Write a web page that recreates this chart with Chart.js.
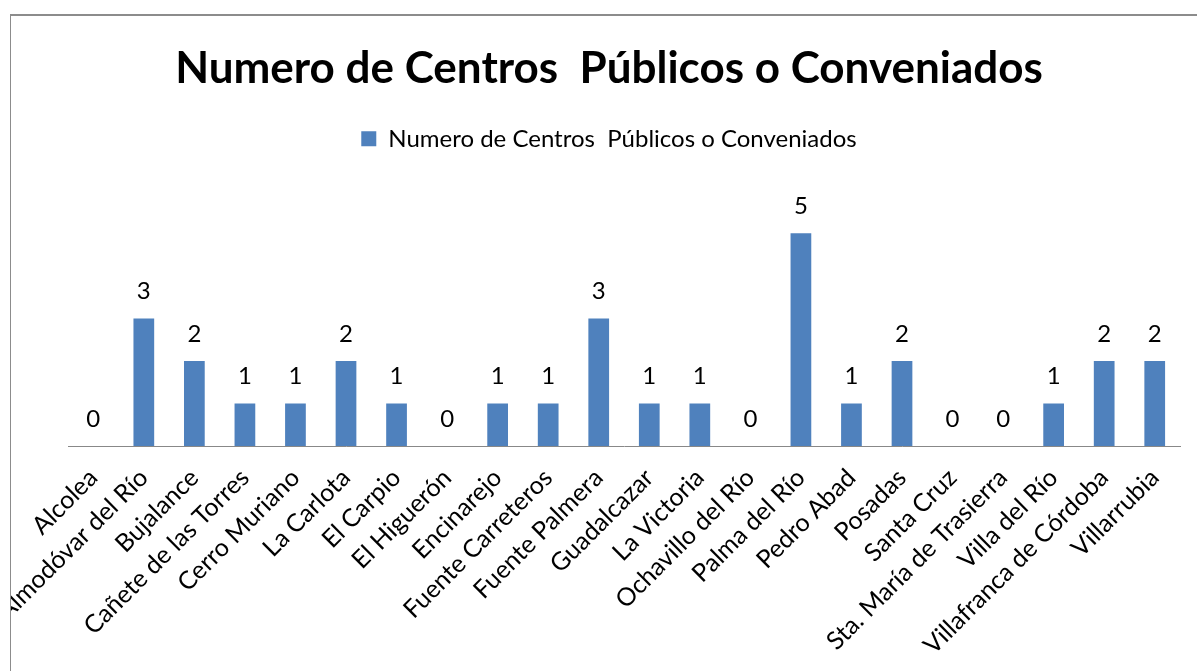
<!DOCTYPE html>
<html>
<head>
<meta charset="utf-8">
<script src="https://cdn.jsdelivr.net/npm/chart.js@4.4.1/dist/chart.umd.min.js"></script>
<style>
html,body{margin:0;padding:0;background:#fff;overflow:hidden}
#wrap{position:relative;width:1197px;height:671px;overflow:hidden}
#frame{position:absolute;left:10px;top:14px;width:1220px;height:700px;border-top:2px solid #8c8c8c;border-left:1px solid #8c8c8c;overflow:hidden}
#frame canvas{position:absolute;left:-11px;top:-16px}
</style>
</head>
<body>
<div id="wrap"><div id="frame"><canvas id="chart" width="1197" height="671"></canvas></div></div>
<script>
const municipios = ['Alcolea','Almodóvar del Río','Bujalance','Cañete de las Torres','Cerro Muriano','La Carlota','El Carpio','El Higuerón','Encinarejo','Fuente Carreteros','Fuente Palmera','Guadalcazar','La Victoria','Ochavillo del Río','Palma del Río','Pedro Abad','Posadas','Santa Cruz','Sta. María de Trasierra','Villa del Río','Villafranca de Córdoba','Villarrubia'];
const centros = [0,3,2,1,1,2,1,0,1,1,3,1,1,0,5,1,2,0,0,1,2,2];
const serieNombre = 'Numero de Centros  Públicos o Conveniados';
const tituloGrafico = 'Numero de Centros  Públicos o Conveniados';

Chart.defaults.color = '#000';
Chart.defaults.font.family = 'Lato, "Open Sans", sans-serif';

// numbers above each bar, placed from the bar elements
const valueLabels = {
  id:'valueLabels',
  afterDatasetsDraw(chart){
    const ctx = chart.ctx, meta = chart.getDatasetMeta(0);
    ctx.save();
    ctx.font = '24px Lato';
    ctx.fillStyle = '#000';
    ctx.textAlign = 'center';
    ctx.textBaseline = 'alphabetic';
    meta.data.forEach((bar,i)=>ctx.fillText(String(centros[i]), bar.x, bar.y - 19));
    ctx.restore();
  }
};

// extra room under the legend, like the Excel plot area
const legendGap = {
  id:'legendGap',
  afterInit(chart){
    const lg = chart.legend;
    const fit = lg.fit.bind(lg);
    lg.fit = ()=>{ fit(); lg.height += 30; };
  }
};

new Chart(document.getElementById('chart'), {
  type:'bar',
  data:{labels:municipios, datasets:[{label:serieNombre, data:centros, backgroundColor:'#4f81bd', barPercentage:0.41, categoryPercentage:1}]},
  options:{
    responsive:false, animation:false,
    layout:{padding:{left:38, right:17, top:0, bottom:0}},
    plugins:{
      title:{display:true, text:tituloGrafico, font:{size:44, weight:'bold'}, color:'#000', padding:{top:42, bottom:22}},
      legend:{labels:{boxWidth:15, boxHeight:15, font:{size:24}, color:'#000', padding:10}},
      tooltip:{enabled:false}
    },
    scales:{
      x:{
        grid:{display:false},
        border:{display:true, color:'#888', width:1},
        ticks:{autoSkip:false, maxRotation:45, minRotation:45, font:{size:25}, color:'#000', padding:9},
        afterFit(s){ s.height = 225; s.paddingLeft = 0; s.paddingRight = 0; }
      },
      y:{
        display:true, min:0, max:6,
        grid:{display:false}, border:{display:false}, ticks:{display:false},
        afterFit(s){ s.width = 30; }
      }
    }
  },
  plugins:[valueLabels, legendGap]
});
</script>
</body>
</html>
